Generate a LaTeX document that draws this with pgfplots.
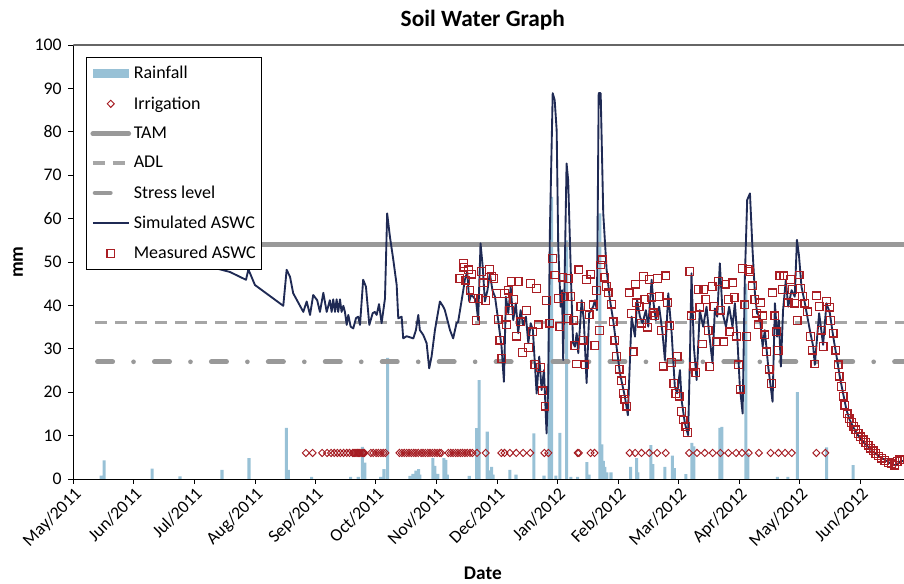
\documentclass[border=0pt]{standalone}
\usepackage{fontspec}
\setmainfont{Carlito}
\usepackage{pgfplots}
\pgfplotsset{compat=1.18}
\definecolor{rainc}{RGB}{152,193,214}
\definecolor{irrc}{RGB}{165,28,34}
\definecolor{simc}{RGB}{31,42,84}
\definecolor{tamc}{RGB}{153,153,153}
\definecolor{adlc}{RGB}{166,166,166}
\definecolor{measc}{RGB}{170,30,36}
\pgfplotsset{
  lineimg/.style={legend image code/.code={\draw[##1] (0pt,0pt) -- (27pt,0pt);}},
  markimg/.style={legend image code/.code={\pgfpathrectangle{\pgfpoint{0pt}{-3pt}}{\pgfpoint{27pt}{6pt}}\pgfusepath{discard}\draw[##1] plot coordinates {(13.5pt,0pt)};}},
  rainimg/.style={legend image code/.code={\fill[rainc] (0pt,-3.4pt) rectangle (27pt,3.4pt);}},
}
\begin{document}
\begin{tikzpicture}
\begin{axis}[
  scale only axis, width=623pt, height=325.5pt,
  xmin=0, xmax=419, ymin=0, ymax=100,
  axis x line*=bottom, axis y line*=left,
  axis line style={black, line width=0.6pt},
  tick align=outside, major tick length=3.75pt,
  tick style={black, line width=0.6pt},
  xtick={0,30.53,61.06,91.6,122.1,152.6,183.2,213.7,244.2,274.8,305.3,335.8,366.4,396.9},
  xticklabels={May/2011,Jun/2011,Jul/2011,Aug/2011,Sep/2011,Oct/2011,Nov/2011,Dec/2011,Jan/2012,Feb/2012,Mar/2012,Apr/2012,May/2012,Jun/2012},
  ytick={0,10,...,100},
  /pgf/number format/assume math mode=true,
  tick label style={font=\fontsize{13.3}{15}\selectfont},
  xticklabel style={rotate=45, anchor=north east, inner sep=1pt},
  yticklabel style={xshift=-1.5pt},
  title={Soil Water Graph},
  title style={font=\bfseries\fontsize{17.5}{20}\selectfont, at={(axis description cs:0.493,1.0392)}, anchor=center},
  xlabel={Date},
  xlabel style={font=\bfseries\fontsize{14.5}{17}\selectfont, at={(axis description cs:0.493,-0.2166)}, anchor=center},
  ylabel={mm},
  ylabel style={font=\bfseries\fontsize{14.5}{17}\selectfont, at={(axis description cs:-0.0666,0.5)}, anchor=center},
  legend style={at={(axis description cs:0.0153,0.972)}, anchor=north west, draw=black, line width=0.6pt, fill=white,
    font=\fontsize{13.5}{16}\selectfont, inner xsep=3pt, inner ysep=4.5pt, row sep=7.9pt, column sep=1pt,
    nodes={inner xsep=1pt}, cells={anchor=west}},
  legend cell align=left,
]
\addplot[ybar, bar width=2.3pt, fill=rainc, draw=none, rainimg] table {
14.0 0.8
15.5 4.3
39.7 2.4
53.8 0.6
75.0 2.1
88.6 4.8
107.5 11.8
108.5 2.1
120.2 0.5
139.9 0.5
143.7 0.5
145.8 7.4
147.1 3.8
155.0 0.5
156.7 2.3
158.5 27.9
169.8 0.7
171.3 1.2
172.8 1.9
174.2 2.3
174.8 1.0
181.4 4.8
182.4 3.0
183.9 1.2
186.9 4.8
187.9 4.4
188.7 1.0
199.7 0.7
203.4 11.7
204.7 22.8
208.8 10.9
209.9 2.0
211.0 2.8
211.7 1.0
220.2 2.1
223.3 1.0
232.3 10.5
237.4 0.8
240.0 35
241.2 65
243.4 0.8
245.4 10.6
248.8 55
251.0 0.5
254.4 0.5
259.0 3.9
260.1 1.0
265.6 61.2
266.6 8
267.4 4.2
268.1 2.8
269.1 1.5
271.2 1.5
281.1 2.8
284.1 4.8
284.8 1.5
291.3 7.8
292.3 3.4
298.4 2.8
302.2 5.4
303.2 2.5
309.0 1.1
312.0 8.3
313.0 7.5
326.1 11.8
327.1 12.0
339.2 45
340.2 6
355.1 0.5
360.4 0.5
365.2 20
380.0 7.3
393.3 3.2
};
\addlegendentry{Rainfall}
\addplot[irrc, only marks, mark=diamond, mark size=2.7pt, mark options={solid, line width=0.7pt, xscale=1.3}, markimg] table {
117.3 6
120.7 6
125.5 6
128.0 6
130.0 6
131.6 6
133.2 6
134.7 6
136.3 6
137.9 6
139.3 6
140.9 6
141.5 6
142.0 6
142.6 6
143.2 6
143.8 6
144.4 6
145.1 6
145.8 6
146.3 6
146.8 6
150.1 6
151.3 6
152.7 6
153.9 6
155.1 6
156.3 6
157.4 6
164.5 6
165.7 6
166.9 6
168.1 6
169.3 6
170.5 6
171.7 6
172.8 6
174.0 6
175.4 6
176.4 6
177.6 6
178.8 6
179.9 6
181.1 6
182.3 6
183.5 6
184.7 6
185.5 6
189.2 6
190.4 6
191.6 6
192.8 6
194.0 6
195.2 6
196.3 6
197.5 6
198.7 6
200.1 6
201.3 6
203.6 6
208.0 6
215.9 6
217.5 6
220.2 6
223.4 6
226.9 6
230.5 6
237.6 6
239.6 6
254.4 6
255.0 6
260.9 6
262.9 6
280.6 6
283.4 6
286.6 6
290.5 6
294.5 6
298.8 6
310.6 6
314.6 6
318.5 6
322.5 6
326.4 6
330.4 6
334.3 6
337.3 6
340.7 6
345.8 6
351.7 6
355.7 6
359.0 6
362.4 6
374.8 6
379.3 6
};
\addlegendentry{Irrigation}
\addplot[tamc, line width=3.5pt, line cap=round, lineimg] coordinates {(11,54) (419,54)};
\addlegendentry{TAM}
\addplot[adlc, line width=2.5pt, dash pattern=on 9pt off 6pt, lineimg] coordinates {(11,36) (419,36)};
\addlegendentry{ADL}
\addplot[tamc, line width=3.5pt, line cap=round, dash pattern=on 11.5pt off 15.6pt on 0pt off 15.6pt, dash phase=41pt, lineimg] coordinates {(11,27) (419,27)};
\addlegendentry{Stress level}
\addplot[simc, line width=1.4pt, line join=round, lineimg] table {
11 54
20 52.8
35 51.5
50 50.5
62 50
72.3 48.5
79.0 47.7
87.1 45.9
88.3 48.3
91.6 44.7
105.9 39.9
107.6 48.2
109.3 46.6
110.9 42.8
116.0 38.5
117.7 40.9
119.4 37.8
121.0 42.4
123.0 41.2
124.4 38.5
126.1 42.9
127.8 38.5
129.4 41.2
130.3 38.5
131.1 41.4
132.0 38.5
132.8 41.4
133.6 38.5
134.5 41.4
135.3 38.5
136.2 39.9
137.0 38.5
137.9 35.5
138.7 37.8
139.9 35.1
141.2 34.7
142.6 37.1
143.7 37.4
144.6 35.5
146.2 45.9
147.6 44.3
149.3 35.5
151.0 38.2
152.1 38.5
153.0 37.8
154.2 40.3
155.5 35.9
157.2 41.6
158.3 61.2
159.7 55.8
161.4 50.5
163.1 44.7
163.9 37.0
165.6 37.4
166.4 32.4
168.1 32.9
171.5 32.4
172.8 34.3
174.0 37.8
174.8 34.3
176.5 33.2
178.2 31.3
179.5 25.5
180.7 28.2
182.4 34.3
184.9 40.9
186.6 39.7
187.4 38.9
189.1 35.9
190.0 34.3
191.6 32.4
193.3 35.9
194.1 36.2
196.7 43.5
197.5 45.9
198.7 47.8
199.7 40.9
200.6 42.4
201.7 42.0
203.1 41.2
204.2 36.6
205.4 54.3
206.5 48.9
207.6 40.9
208.9 43.5
210.1 47.4
211.4 43.5
212.7 42.0
214.3 36.6
216.0 30.5
217.2 22.4
218.2 42.0
219.4 38.2
220.6 44.3
221.9 36.6
223.2 40.5
224.4 33.6
225.6 38.9
226.9 35.5
228.3 37.4
229.5 31.3
230.7 35.9
231.8 34.3
233.7 19.7
235.0 28.2
236.2 20.5
237.4 25.1
238.7 10.5
239.5 20.5
240.4 57.4
241.8 88.9
242.8 87.3
243.8 80.4
244.6 53.5
245.8 39.7
246.5 43.5
247.1 27.4
248.8 72.7
249.6 68.9
251.3 42.0
252.1 31.3
253.0 30.5
253.9 33.6
254.7 29.0
256.4 41.2
257.5 36.6
258.9 22.1
260.2 38.2
262.2 39.7
263.1 41.2
264.1 38.9
265.0 88.9
266.0 88.9
267.3 61.2
269.0 48.2
270.7 41.2
272.3 36.6
274.0 30.5
275.7 24.4
278.2 19.0
279.7 14.7
281.6 37.4
283.3 32.8
284.4 41.2
285.8 37.4
287.1 35.9
288.8 38.9
290.0 35.1
291.7 45.9
292.5 41.2
293.8 36.6
295.5 39.7
297.2 33.6
298.4 27.4
300.1 42.8
301.8 33.6
303.4 21.3
304.6 19.7
306.0 25.1
306.8 18.2
308.5 12.8
310.1 10.1
311.0 27.4
311.8 47.4
313.0 30.5
314.4 22.8
316.0 38.9
317.7 35.1
319.4 39.7
320.7 33.6
322.4 26.7
323.6 39.3
324.8 37.4
326.1 49.7
327.5 38.2
329.2 35.1
330.8 39.7
332.5 35.1
333.7 40.5
334.8 33.6
336.2 21.3
337.6 15.1
338.7 45.9
339.9 64.3
341.3 65.8
342.6 52.8
343.8 42.8
344.9 38.2
346.3 37.4
347.7 30.5
348.8 34.3
350.5 25.9
352.7 17.8
353.9 40.5
355.0 32.8
355.9 36.6
356.9 25.9
358.0 38.9
359.4 45.9
360.6 39.7
362.3 43.5
363.9 42.0
365.0 55.1
366.0 51.6
367.3 44.3
369.0 40.5
371.5 34.3
373.2 30.5
374.0 26.3
376.2 38.2
378.2 30.9
379.9 40.5
381.6 38.2
383.3 32.8
385.0 28.2
386.6 23.6
388.3 19.7
390.0 15.9
391.6 13.6
394.2 11.3
396.7 9.4
400.1 7.8
403.4 6.3
406.8 5.1
410.2 4.2
413.5 3.2
415.2 3.2
416.9 4.0
418.9 4.2
};
\addlegendentry{Simulated ASWC}
\addplot[measc, only marks, mark=square, mark size=2.9pt, mark options={solid, line width=0.9pt}, markimg] table {
195.0 46.2
196.7 49.7
197.0 48.8
198.0 45.8
199.2 48.2
200.9 47.2
200.1 43.5
201.7 41.6
203.1 36.5
204.2 41.6
206.0 47.8
206.8 45.2
208.1 41.1
209.8 48.3
211.0 46.6
212.2 46.2
213.5 42.8
214.3 36.8
215.2 32.0
216.2 27.8
217.4 42.8
218.6 35.5
219.4 43.5
220.2 38.8
221.1 45.5
222.2 41.4
223.6 32.9
224.4 45.5
225.6 36.2
226.6 29.1
228.7 38.8
229.5 30.3
230.7 45.1
231.7 33.9
232.8 26.4
233.7 43.9
234.5 35.5
235.7 25.7
236.7 20.3
237.9 16.8
238.7 41.1
240.4 35.9
241.8 50.8
242.9 47.0
244.6 41.6
245.4 35.1
246.8 46.5
248.0 42.0
249.1 37.0
249.6 46.2
251.0 42.0
252.2 36.6
253.0 30.7
253.9 26.5
255.0 48.2
256.0 39.7
257.2 32.0
258.1 26.3
258.9 46.0
260.2 37.8
261.1 47.2
262.2 40.1
263.1 30.7
263.9 43.4
265.3 34.2
266.0 49.3
267.0 50.5
268.1 46.5
269.0 44.3
269.8 42.9
271.5 40.3
272.3 36.2
273.2 32.0
274.0 28.2
275.3 25.3
276.6 22.6
277.4 19.7
278.2 18.3
279.2 16.8
280.4 42.9
281.6 38.1
282.4 29.3
283.5 44.9
284.1 40.6
285.4 39.7
286.6 35.9
287.5 46.6
288.3 41.4
289.5 35.0
290.5 46.0
291.7 41.9
292.5 38.3
293.3 37.6
294.7 46.2
295.5 42.0
296.7 34.2
297.5 26.0
298.9 46.8
299.8 40.6
300.9 35.3
301.8 26.8
302.9 22.0
303.9 19.7
304.6 28.2
305.6 19.1
306.8 15.5
307.6 13.6
309.0 12.1
309.8 10.7
311.0 47.8
311.9 37.6
313.0 26.0
314.0 24.5
315.2 43.7
316.0 39.6
317.4 31.1
318.1 43.7
319.1 41.4
320.2 34.2
321.1 25.9
322.2 44.3
323.1 39.7
324.5 31.6
325.3 45.5
326.5 38.9
328.1 31.6
329.2 44.9
330.3 41.4
331.2 33.9
332.5 45.2
333.3 41.8
334.6 32.9
335.4 26.3
336.6 20.7
337.6 48.5
338.7 40.1
339.6 32.8
340.4 48.3
341.3 47.8
342.6 44.5
343.8 41.4
344.6 38.2
345.4 35.5
346.7 40.6
347.7 37.6
348.8 33.2
349.7 29.3
351.0 25.3
352.2 22.0
352.7 42.9
353.9 37.6
354.7 33.9
355.5 29.6
356.4 46.8
357.7 43.7
358.4 46.8
360.6 40.6
361.8 46.0
362.8 43.7
364.0 40.5
365.1 36.5
366.1 47.0
366.8 43.9
367.8 42.0
369.0 40.5
370.2 38.5
371.9 32.8
372.9 29.7
374.0 26.5
374.9 42.2
376.2 39.7
377.4 34.3
378.2 30.5
379.9 40.9
381.3 39.6
382.0 36.5
383.3 33.6
384.6 29.7
385.8 26.3
386.3 23.7
387.5 21.3
388.3 19.1
389.2 17.0
390.3 15.0
391.3 14.0
392.5 13.0
393.7 12.1
394.7 11.3
395.9 10.5
397.1 9.7
398.4 9.0
399.8 8.4
400.9 7.8
402.1 7.1
403.4 6.5
404.8 5.9
406.2 5.3
407.7 4.8
409.3 4.2
411.0 3.8
412.7 3.5
414.4 3.2
415.5 4.0
416.9 4.4
418.3 4.4
};
\addlegendentry{Measured ASWC}
\draw[black!60, line width=1.3pt] (rel axis cs:0,1) -- (rel axis cs:1,1);
\end{axis}
\pgfresetboundingbox
\path[use as bounding box] (-55pt,-78.75pt) rectangle (623pt,359.25pt);
\end{tikzpicture}
\end{document}
